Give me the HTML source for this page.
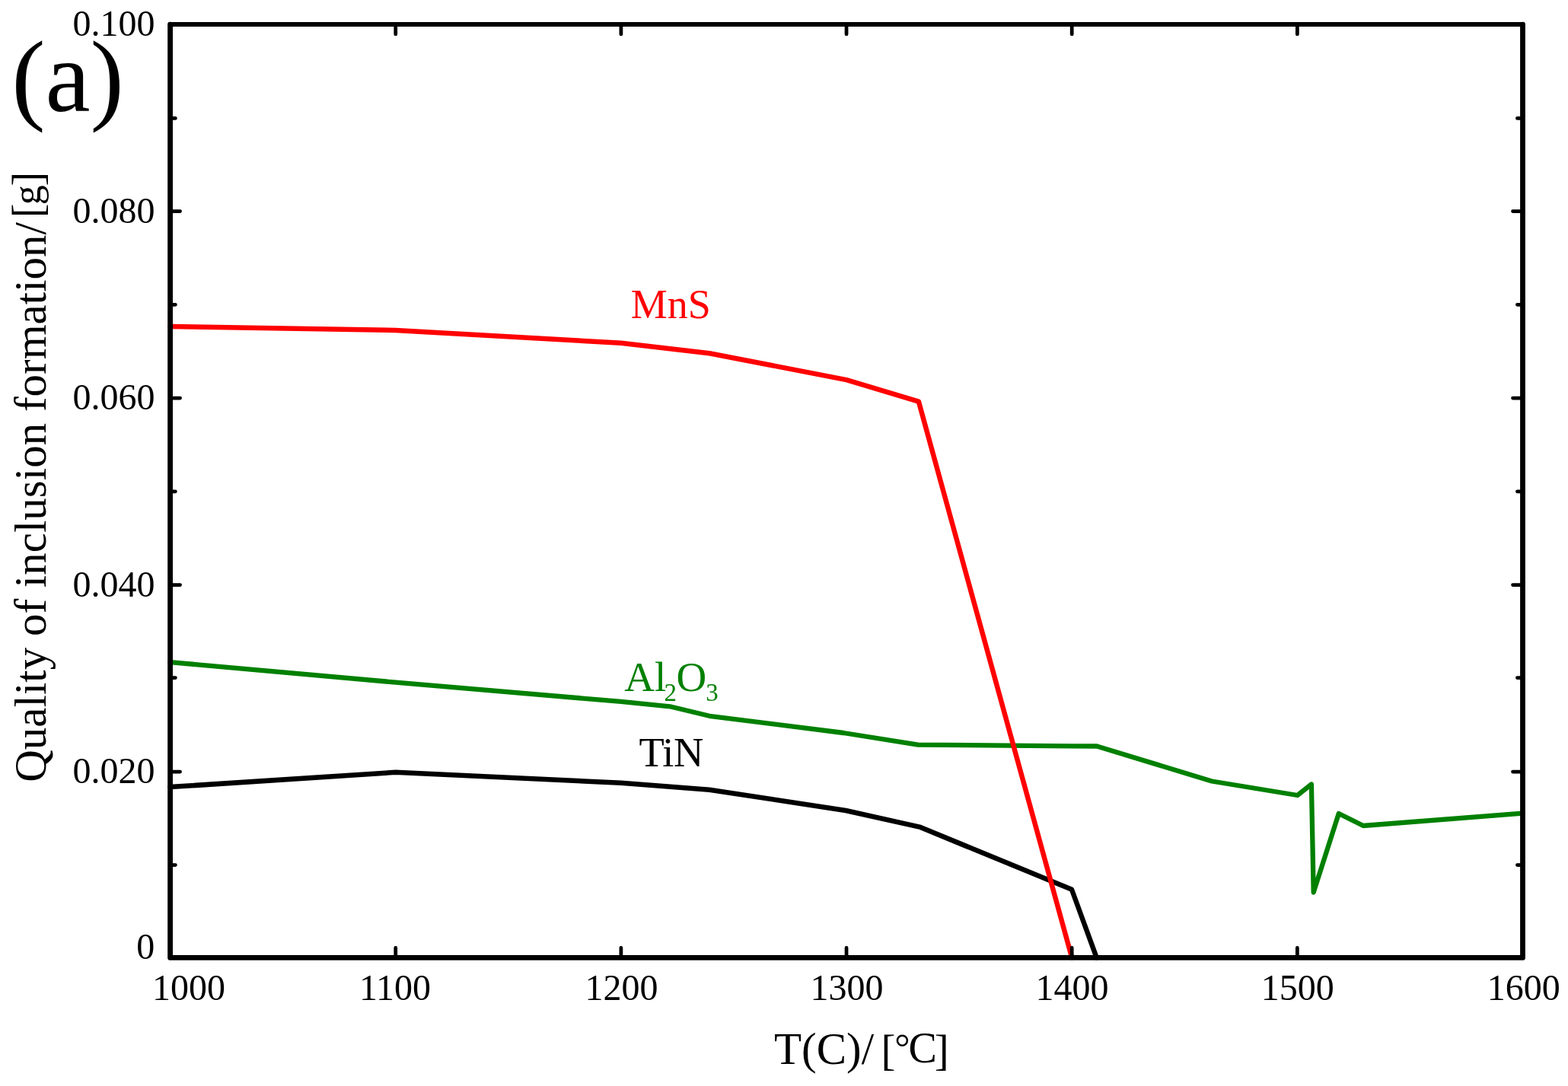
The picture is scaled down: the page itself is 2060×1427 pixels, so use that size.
<!DOCTYPE html>
<html>
<head>
<meta charset="utf-8">
<style>
html,body{margin:0;padding:0;background:#fff;}
body{width:2060px;height:1427px;overflow:hidden;}
svg{display:block;}
text{font-family:"Liberation Serif","Times New Roman",serif;}
</style>
</head>
<body>
<svg width="2060" height="1427" viewBox="0 0 2060 1427">
<rect x="0" y="0" width="2060" height="1427" fill="#fff"/>

<!-- curves -->
<g fill="none" stroke-linejoin="round" stroke-linecap="round" stroke-width="6.3">
<polyline stroke="#000" stroke-width="6.5" points="223.6,1034.1 519.75,1014.8 816,1028.7 932,1037.7 1111,1065 1208,1086.6 1408,1168.75 1440.7,1258.4"/>
<polyline stroke="#008000" points="223.6,870.1 519.75,896.6 815.9,921.9 880,928.3 932,940.8 1108,963 1206,978.6 1408,980.4 1441,980.5 1592,1026.5 1704.6,1045 1722.9,1030.5 1725.7,1172.5 1758.8,1069 1791,1085 2000.5,1068.7"/>
<polyline stroke="#f00" stroke-width="6.5" points="223.6,429 519.75,434 816,450.8 932,464.2 1112,499.1 1206.9,527.6 1408.2,1258.4"/>
</g>

<!-- axes frame -->
<g stroke="#000" fill="none" stroke-linejoin="round" stroke-linecap="round">
<path d="M2000.5 32.1V1258.4H223.6V32.1" stroke-width="6.8"/>
<path d="M223.6 32.1H2000.5" stroke-width="6"/>
</g>

<!-- ticks -->
<g stroke="#000" stroke-width="4.75" stroke-linecap="round" fill="none">
<path d="M223.6 277.6H236.6M223.6 523.1H236.6M223.6 768.6H236.6M223.6 1014.1H236.6"/>
<path d="M223.6 155.4H230.4M223.6 400.35H230.4M223.6 645.85H230.4M223.6 890.5H230.4M223.6 1136.6H230.4"/>
<path d="M2000.5 277.6H1987.5M2000.5 523.1H1987.5M2000.5 768.6H1987.5M2000.5 1014.1H1987.5"/>
<path d="M2000.5 155.4H1993.4M2000.5 400.35H1993.4M2000.5 645.85H1993.4M2000.5 890.5H1993.4M2000.5 1136.6H1993.4"/>
<path d="M519.75 32.1V44.9M815.9 32.1V44.9M1112.05 32.1V44.9M1408.2 32.1V44.9M1704.35 32.1V44.9"/>
<path d="M519.75 1258.4V1245.4M815.9 1258.4V1245.4M1112.05 1258.4V1245.4M1408.2 1258.4V1245.4M1704.35 1258.4V1245.4"/>
</g>

<!-- y tick labels -->
<g font-size="48" text-anchor="end" fill="#000">
<text x="203.6" y="47.2">0.100</text>
<text x="203.6" y="292.9">0.080</text>
<text x="203.6" y="538.4">0.060</text>
<text x="203.6" y="784.2">0.040</text>
<text x="203.6" y="1029">0.020</text>
<text x="203.3" y="1259.8">0</text>
</g>

<!-- x tick labels -->
<g font-size="48" text-anchor="middle" fill="#000">
<text x="248" y="1313.7">1000</text>
<text x="519" y="1313.7">1100</text>
<text x="816.5" y="1313.7">1200</text>
<text x="1112.5" y="1313.7">1300</text>
<text x="1408.5" y="1313.7">1400</text>
<text x="1704.7" y="1313.7">1500</text>
<text x="2001.8" y="1313.7">1600</text>
</g>

<!-- axis titles -->
<text x="1017" y="1397.6" font-size="59" fill="#000">T(C)/ <tspan x="1157.4" y="1399" font-size="57">[</tspan><tspan x="1175.2" y="1392.7" font-size="51">°</tspan><tspan x="1193.5" y="1396" font-size="56">C</tspan><tspan x="1227.7" y="1399" font-size="57">]</tspan></text>
<g transform="translate(59.5,1027.8) rotate(-90)">
<text x="0" y="0" font-size="59" fill="#000">Quality of inclusion formation/<tspan x="741.5" y="-4.2" font-size="56.5">[</tspan><tspan x="758.6" y="-6.3" font-size="52">g</tspan><tspan x="783.4" y="-4.2" font-size="56.5">]</tspan></text>
</g>

<!-- panel label -->
<text x="15.2" y="146" font-size="133" fill="#000">(a)</text>

<!-- curve labels -->
<text x="828.8" y="417.6" font-size="54" fill="#f00">MnS</text>
<text y="907.9" font-size="55" fill="#008000"><tspan x="820.35">Al</tspan><tspan x="872.45" y="920.8" font-size="33">2</tspan><tspan x="888.5" y="907.9">O</tspan><tspan x="927.3" y="921.2" font-size="33">3</tspan></text>
<text x="839.4" y="1006.7" font-size="54.5" letter-spacing="-0.4" fill="#000">TiN</text>
</svg>
</body>
</html>
